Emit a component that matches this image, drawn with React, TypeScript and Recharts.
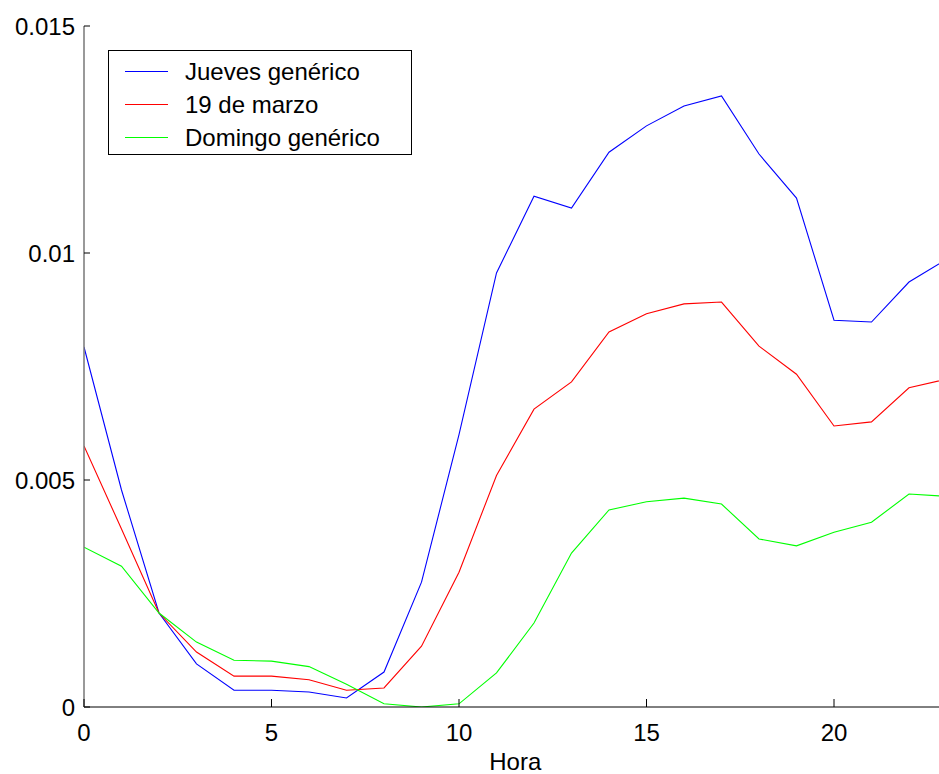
import React from 'react';
import { LineChart, Line, XAxis, YAxis } from 'recharts';

// Hourly profiles (fraction of daily total), hour 0..23
const hours = [0, 1, 2, 3, 4, 5, 6, 7, 8, 9, 10, 11, 12, 13, 14, 15, 16, 17, 18, 19, 20, 21, 22, 23];
const jueves = [0.00793, 0.00478, 0.00207, 0.00095, 0.00037, 0.00037, 0.00033, 0.0002, 0.00077, 0.00275, 0.006, 0.00956, 0.01125, 0.01099, 0.01222, 0.0128, 0.01324, 0.01346, 0.01218, 0.01121, 0.00852, 0.00848, 0.00936, 0.00986];
const marzo = [0.00575, 0.00392, 0.00207, 0.00121, 0.00068, 0.00068, 0.0006, 0.00037, 0.00042, 0.00134, 0.00297, 0.0051, 0.00656, 0.00716, 0.00826, 0.00866, 0.00888, 0.00892, 0.00795, 0.00733, 0.00619, 0.00628, 0.00703, 0.00722];
const domingo = [0.00352, 0.0031, 0.00207, 0.00143, 0.00103, 0.00101, 0.00089, 0.0005, 0.00007, 0, 0.00007, 0.00075, 0.00185, 0.00339, 0.00434, 0.00452, 0.0046, 0.00447, 0.0037, 0.00355, 0.00385, 0.00407, 0.00469, 0.00464];

const xTicks = [0, 5, 10, 15, 20];
const yTicks = [0, 0.005, 0.01, 0.015];

const series = [
  { key: 'jueves', name: 'Jueves genérico', color: '#0000FF' },
  { key: 'marzo', name: '19 de marzo', color: '#FF0000' },
  { key: 'domingo', name: 'Domingo genérico', color: '#00FF00' },
];

const data = hours.map((h, i) => ({ hora: h, jueves: jueves[i], marzo: marzo[i], domingo: domingo[i] }));

const FONT = "'Liberation Sans', Arial, Helvetica, sans-serif";
const X_FULL = 23;   // full axis extent
const X_SHOWN = 22.8; // visible part of it

/* inward ticks, matlab-style */
function YTick({ x, y, payload }: any) {
  return (
    <g>
      <line x1={x} x2={x + 6} y1={y} y2={y} stroke="#000" strokeWidth={1} />
      <text x={x - 9} y={y} textAnchor="end" dominantBaseline="central" fontSize={24} fontFamily={FONT} fill="#000">
        {String(payload.value)}
      </text>
    </g>
  );
}

function XTick({ x, y, payload }: any) {
  return (
    <g>
      <line x1={x} x2={x} y1={y} y2={y - 8} stroke="#000" strokeWidth={1} />
      <text x={x} y={y + 25} textAnchor="middle" dominantBaseline="central" fontSize={24} fontFamily={FONT} fill="#000">
        {String(payload.value)}
      </text>
    </g>
  );
}

function HoraLabel({ viewBox }: any) {
  const cx = viewBox.x + (viewBox.width / X_SHOWN) * (X_FULL / 2);
  return (
    <text x={cx} y={viewBox.y + 63} textAnchor="middle" fontSize={24} fontFamily={FONT} fill="#000">
      Hora
    </text>
  );
}

function LegendBox() {
  return (
    <div style={{
      position: 'absolute', left: 108, top: 50, width: 304, height: 105, boxSizing: 'border-box',
      border: '1px solid #000', background: '#fff', padding: '4px 0 0 16px',
      fontFamily: FONT, fontSize: 24, color: '#000',
    }}>
      {series.map((s) => (
        <div key={s.key} style={{ display: 'flex', alignItems: 'center', height: 33 }}>
          <span style={{ width: 43, height: 0, borderTop: `1px solid ${s.color}`, display: 'inline-block', marginRight: 17 }} />
          <span>{s.name}</span>
        </div>
      ))}
    </div>
  );
}

export default function App() {
  return (
    <div style={{ position: 'absolute', left: 0, top: 0, width: 939, height: 774, background: '#fff' }}>
      <LineChart width={939} height={774} data={data} margin={{ top: 26, right: 0, bottom: 0, left: 0 }}>
        <XAxis
          dataKey="hora"
          type="number"
          domain={[0, X_SHOWN]}
          allowDataOverflow
          ticks={xTicks}
          height={67}
          tickLine={false}
          tickSize={0}
          tickMargin={0}
          tick={<XTick />}
          axisLine={{ stroke: '#000', strokeWidth: 1 }}
          label={<HoraLabel />}
        />
        <YAxis
          type="number"
          domain={[0, 0.015]}
          allowDataOverflow
          ticks={yTicks}
          width={84}
          tickLine={false}
          tickSize={0}
          tickMargin={0}
          tick={<YTick />}
          axisLine={{ stroke: '#777', strokeWidth: 1.5 }}
        />
        {series.map((s) => (
          <Line
            key={s.key}
            type="linear"
            dataKey={s.key}
            name={s.name}
            stroke={s.color}
            strokeWidth={1.1}
            dot={false}
            activeDot={false}
            isAnimationActive={false}
          />
        ))}
      </LineChart>
      <LegendBox />
    </div>
  );
}
